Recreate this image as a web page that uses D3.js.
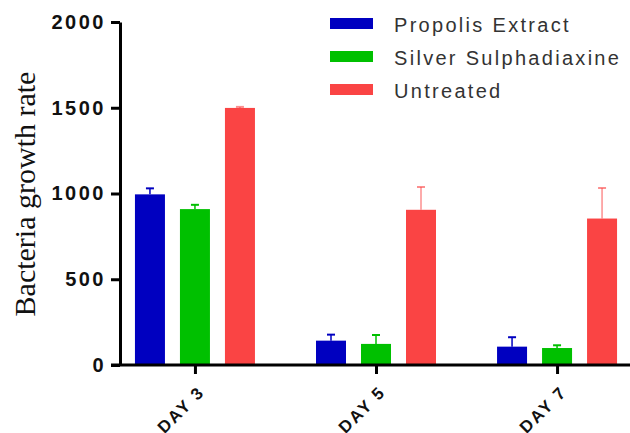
<!DOCTYPE html>
<html>
<head>
<meta charset="utf-8">
<script src="https://cdn.jsdelivr.net/npm/d3@7"></script>
<style>
  body { margin: 0; background: #fff; }
  svg { display: block; }
</style>
</head>
<body>
<svg></svg>
<script>
var days = ["DAY 3", "DAY 5", "DAY 7"];
var seriesNames = ["Propolis Extract", "Silver Sulphadiaxine", "Untreated"];
var propolis = [995, 142, 107];
var propolisErr = [35, 35, 55];
var silver = [909, 123, 99];
var silverErr = [25, 52, 16];
var untreated = [1499, 905, 854];
var untreatedErr = [6, 133, 178];
var yTicks = [0, 500, 1000, 1500, 2000];
var colors = ["#0000c0", "#00c000", "#fa4444"];

var svgWidth = 630, svgHeight = 433;

var svg = d3.select("svg")
  .attr("width", svgWidth)
  .attr("height", svgHeight);

var values = [propolis, silver, untreated];
var errors = [propolisErr, silverErr, untreatedErr];

var x = d3.scalePoint().domain(days).range([118, 634]).padding(0.425);
var inner = d3.scaleBand().domain(seriesNames).range([-60, 60]).paddingInner(1 / 3);
var y = d3.scaleLinear().domain([0, 2000]).range([365, 22]);

function cx(i, s) { return x(days[i]) + inner(seriesNames[s]) + inner.bandwidth() / 2; }

// bars
values.forEach(function(vals, s) {
  var g = svg.append("g");
  g.selectAll("rect")
    .data(vals)
    .enter().append("rect")
    .attr("x", function(d, i) { return x(days[i]) + inner(seriesNames[s]); })
    .attr("y", function(d) { return y(d); })
    .attr("width", inner.bandwidth())
    .attr("height", function(d) { return y(0) - y(d); })
    .attr("fill", colors[s]);

  // error bars (upper only)
  var eb = g.selectAll("g.err")
    .data(vals)
    .enter().append("g")
    .attr("stroke", colors[s])
    .attr("stroke-opacity", s == 2 ? 0.6 : 1)
    .attr("stroke-width", 1.5);
  eb.append("line")
    .attr("x1", function(d, i) { return cx(i, s); })
    .attr("x2", function(d, i) { return cx(i, s); })
    .attr("y1", function(d) { return y(d); })
    .attr("y2", function(d, i) { return y(d + errors[s][i]); });
  eb.append("line")
    .attr("x1", function(d, i) { return cx(i, s) - 4; })
    .attr("x2", function(d, i) { return cx(i, s) + 4; })
    .attr("y1", function(d, i) { return y(d + errors[s][i]); })
    .attr("y2", function(d, i) { return y(d + errors[s][i]); })
    .attr("stroke-width", 2);
});

// y axis
var yAxis = svg.append("g")
  .attr("transform", "translate(120,0)")
  .call(d3.axisLeft(y).tickValues(yTicks).tickFormat(d3.format("d"))
    .tickSize(9).tickSizeOuter(0).tickPadding(5));
yAxis.select(".domain").attr("stroke-width", 3);
yAxis.selectAll(".tick line").attr("stroke-width", 3);
yAxis.selectAll("text")
  .attr("fill", "#111")
  .style("font-family", "Liberation Sans, Arial, sans-serif")
  .style("font-size", "20px")
  .style("font-weight", "bold")
  .style("letter-spacing", "2.5px");

// x axis
var xAxis = svg.append("g")
  .attr("transform", "translate(0," + y(0) + ")")
  .call(d3.axisBottom(x).tickSize(9).tickSizeOuter(0));
xAxis.select(".domain").attr("stroke-width", 3).attr("d", "M111,0H634");
xAxis.selectAll(".tick line").attr("stroke-width", 3);
xAxis.selectAll("text")
  .attr("fill", "#111")
  .attr("text-anchor", "end")
  .attr("x", 0)
  .attr("y", 0)
  .attr("dy", "0.35em")
  .attr("transform", "translate(6,24) rotate(-45)")
  .style("font-family", "Liberation Sans, Arial, sans-serif")
  .style("font-size", "17px")
  .style("font-weight", "bold")
  .style("letter-spacing", "2px");

// y label
svg.append("text")
  .attr("transform", "translate(35,194) rotate(-90)")
  .attr("text-anchor", "middle")
  .style("font-family", "Liberation Serif, Times New Roman, serif")
  .style("font-size", "30px")
  .attr("fill", "#111")
  .text("Bacteria growth rate");

// legend
var legend = svg.append("g").selectAll("g")
  .data(seriesNames)
  .enter().append("g")
  .attr("transform", function(d, i) { return "translate(330," + (23.5 + i * 33) + ")"; });
legend.append("rect")
  .attr("x", 0)
  .attr("y", -5.5)
  .attr("width", 43)
  .attr("height", 11)
  .attr("fill", function(d, i) { return colors[i]; });
legend.append("text")
  .attr("x", 64)
  .attr("y", 8)
  .attr("fill", "#333")
  .style("font-family", "Liberation Sans, Arial, sans-serif")
  .style("font-size", "20px")
  .style("letter-spacing", "2.3px")
  .text(function(d) { return d; });
</script>
</body>
</html>
